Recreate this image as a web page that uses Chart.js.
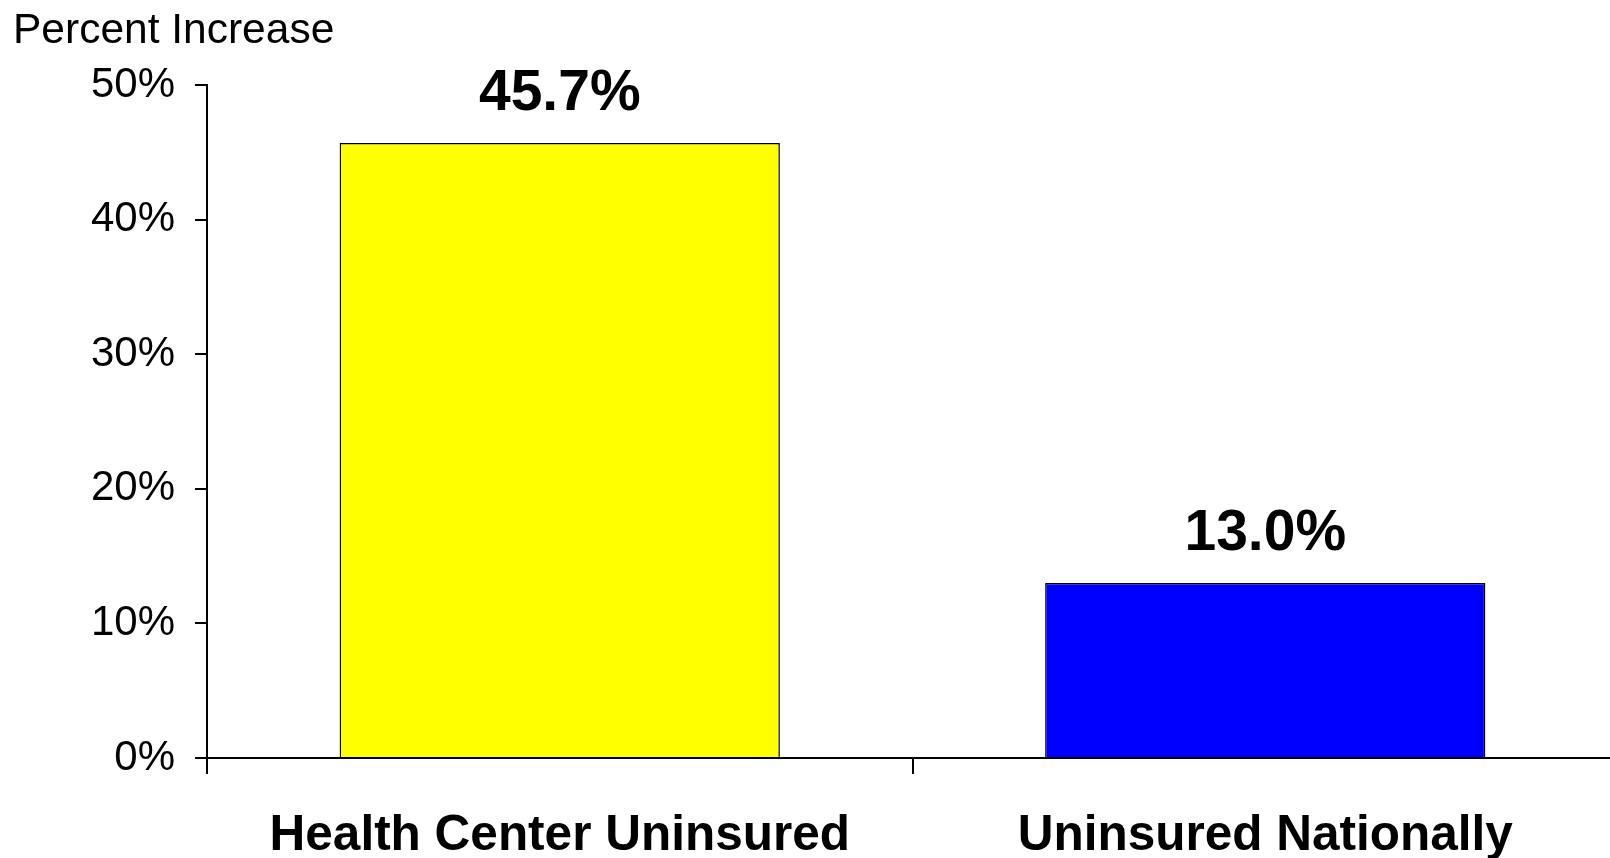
<!DOCTYPE html>
<html>
<head>
<meta charset="utf-8">
<script src="https://cdn.jsdelivr.net/npm/chart.js@4/dist/chart.umd.min.js"></script>
<style>
  body { margin:0; background:#fff; overflow:hidden; }
  /* the plot area runs a few px past the right edge, as in the original */
  #wrap { width:1618px; height:858px; position:relative; }
</style>
</head>
<body>
<div id="wrap"><canvas id="pctChart"></canvas></div>
<script>
const categories = ["Health Center Uninsured", "Uninsured Nationally"];
const pctIncrease = [45.7, 13.0];
const yTicks = [0, 10, 20, 30, 40, 50];

const barColors = ["#FFFF00", "#0000FF"];
const FONT = "'Liberation Sans', Arial, sans-serif";

// bar value labels + the "Percent Increase" caption
const labelPlugin = {
    id: "labels",
    afterDatasetsDraw(chart){
        const ctx = chart.ctx;
        ctx.save();
        ctx.fillStyle = "#000";
        ctx.font = "bold 57px " + FONT;
        ctx.textAlign = "center";
        ctx.textBaseline = "alphabetic";
        chart.getDatasetMeta(0).data.forEach((bar,i)=>{
            ctx.fillText(pctIncrease[i].toFixed(1) + "%", bar.x, bar.y - 33);
        });
        ctx.font = "42.5px " + FONT;
        ctx.textAlign = "left";
        ctx.fillText("Percent Increase", 13, 43);
        ctx.restore();
    }
};

const ctx = document.getElementById("pctChart").getContext("2d");

new Chart(ctx,{
    type:"bar",
    data:{
        labels:categories,
        datasets:[{
            data:pctIncrease,
            backgroundColor:barColors,
            borderColor:"#000",
            borderWidth:1.5,
            categoryPercentage:1,
            barPercentage:0.624
        }]
    },
    options:{
        responsive:true,
        maintainAspectRatio:false,
        animation:false,
        layout:{ padding:{ top:85, right:0, left:0, bottom:0 } },
        plugins:{ legend:{ display:false }, tooltip:{ enabled:false } },
        scales:{
            x:{
                grid:{ drawOnChartArea:false, color:"#000", lineWidth:2, tickLength:16, offset:true },
                border:{ color:"#000", width:2 },
                ticks:{ color:"#000", font:{ family:FONT, size:49.5, weight:"bold" }, padding:33, maxRotation:0 },
                afterFit(scale){
                    scale.height = 100;
                    scale.paddingLeft = 0;
                    scale.paddingRight = 0;
                }
            },
            y:{
                min:0,
                max:50,
                afterBuildTicks(scale){ scale.ticks = yTicks.map(v=>({ value:v })); },
                grid:{ drawOnChartArea:false, color:"#000", lineWidth:2, tickLength:12 },
                border:{ color:"#000", width:2 },
                ticks:{ color:"#000", font:{ family:FONT, size:42 }, padding:20,
                        callback:v=>v + "%" },
                afterFit(scale){ scale.width = 207; }
            }
        }
    },
    plugins:[labelPlugin]
});
</script>
</body>
</html>
